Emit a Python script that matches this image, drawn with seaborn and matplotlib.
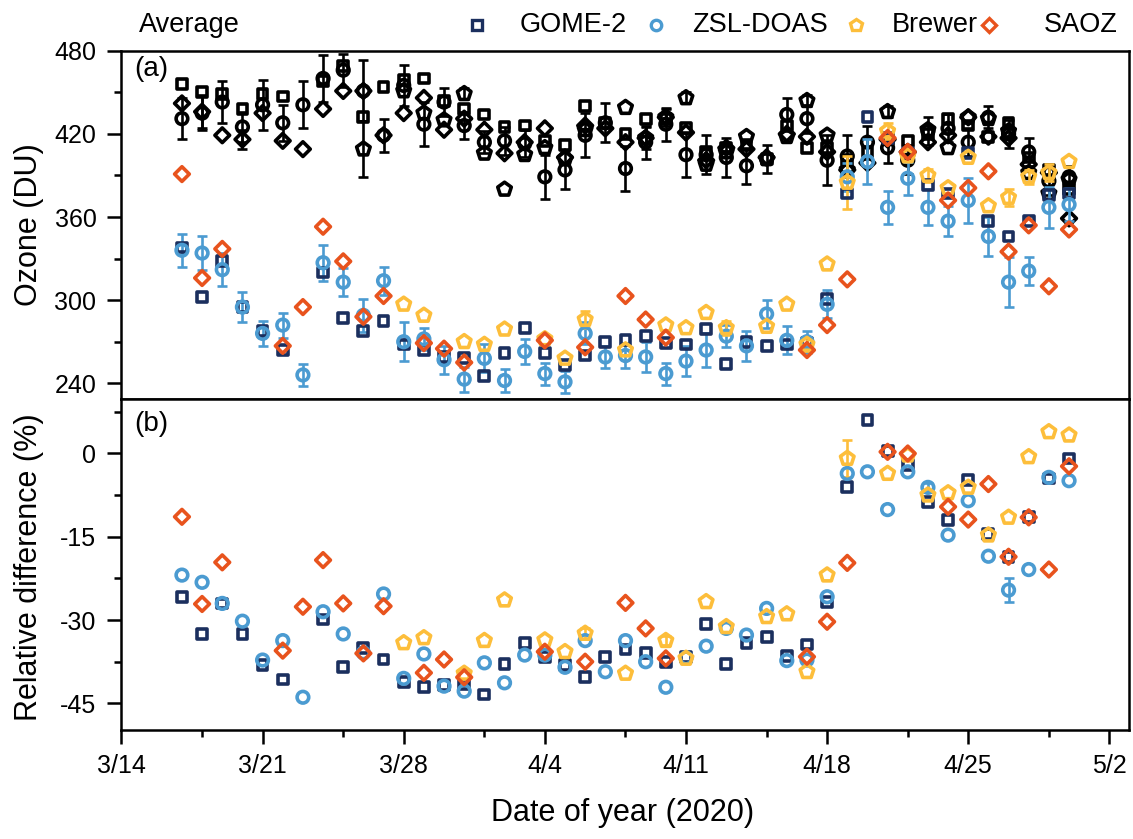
import numpy as np
import pandas as pd
import matplotlib
matplotlib.use("Agg")
import matplotlib.pyplot as plt
import matplotlib.dates as mdates
from matplotlib.lines import Line2D
from matplotlib.ticker import MultipleLocator, FixedLocator, FuncFormatter
import seaborn as sns

nan = np.nan

# ---------------- data (3/17 ... 4/30, 2020) ----------------
dates = pd.date_range("2020-03-17", "2020-04-30", freq="D")

gome_2020 = [338, 302, 328, 295, 278, 264, nan, 320, 287, 278, 285, 268, 264, 259, 258,
             245, 262, 280, 262, 253, 260, 270, 271, 274, 269, 268, 279, 254, 270, 267,
             268, 269, 301, 377, 432, 417, 406, 383, 377, 406, 357, 346, 357, 376, 377]
gome_avg = [456, 450, 449, 438, 449, 447, nan, 458, 469, 432, 454, 459, 460, 444, 438,
            434, 425, 426, 415, 412, 440, 428, 420, 431, 431, 424, 407, 410, 412, 402,
            426, 410, 410, 401, 407, 416, 415, 420, 431, 426, 418, 428, 403, 394, 380]
gome_rd = [-25.8, -32.5, -27.0, -32.5, -38.1, -40.7, nan, -29.9, -38.5, -35.1, -37.1, -41.1,
           -42.0, -41.7, -41.6, -43.4, -37.9, -34.1, -36.6, -38.1, -40.3, -36.6, -35.3, -36.0,
           -37.5, -36.6, -30.7, -37.9, -34.2, -33.1, -36.5, -34.4, -26.7, -6.1, 6.0, 0.5,
           -2.1, -8.7, -12.0, -4.7, -14.5, -18.6, -11.5, -4.5, -0.9]

zsl_2020 = [336, 334, 322, 295, 276, 282, 246, 327, 313, 289, 314, 270, 272, 257, 243,
            258, 242, 263, 247, 241, 276, 259, 260, 259, 247, 256, 264, 274, 267, 290,
            271, 270, 297, 389, 400, 367, 388, 367, 357, 372, 346, 313, 321, 367, 369]
zsl_err = [12, 12, 12, 11, 9, 9, 8, 13, 10, 12, 10, 14, 8, 10, 9, 10, 8, 9, 8, 8, 8, 8, 9,
           11, 8, 11, 12, 8, 11, 10, 10, 8, 10, 10, 16, 12, 12, 13, 11, 16, 14, 18, 10, 15, 12]
zsl_avg = [431, 435, 443, 425, 441, 428, 441, 460, 466, 451, 419, 455, 427, 443, 426,
           414, 415, 413, 389, 394, 419, 428, 395, 414, 427, 405, 405, 403, 397, 402,
           434, 431, 401, 404, 414, 410, 401, 422, 424, 414, 432, 420, 407, 386, 389]
zsl_avg_err = [15, 12, 15, 11, 18, 13, 17, 17, 12, 22, 12, 15, 16, 10, 10, 8, 10, 10, 16,
               14, 16, 14, 16, 12, 12, 16, 14, 14, 13, 10, 12, 10, 18, 15, 12, 11, 10, 10,
               10, 10, 8, 10, 10, 10, 8]
zsl_rd = [-21.9, -23.2, -27.0, -30.2, -37.2, -33.7, -43.9, -28.5, -32.5, -35.9, -25.3, -40.5,
          -36.1, -41.9, -42.8, -37.7, -41.3, -36.3, -36.3, -38.5, -33.7, -39.3, -33.7, -37.5,
          -42.1, -36.8, -34.7, -31.5, -32.7, -27.9, -37.3, -37.2, -25.8, -3.6, -3.3, -10.1,
          -3.3, -6.1, -14.7, -8.5, -18.5, -24.6, -20.9, -4.3, -4.9]
zsl_rd_err = [0, 0, 0, 0, 0, 0, 0, 0, 0, 0, 0, 0, 0, 0, 0, 0, 0, 0, 0, 0, 0, 0, 0, 0, 0, 0,
              0, 0, 0, 0, 0, 0, 0, 0, 0, 0, 0, 0.8, 0, 0, 0, 2.2, 0, 0, 0]

brewer_2020 = [nan, nan, nan, nan, nan, nan, nan, nan, nan, nan, nan, 297, 289, nan, 270,
               268, 279, nan, 272, 258, 286, nan, 264, nan, 282, 280, 291, 280, nan, 281,
               297, 268, 326, 385, nan, 422, 404, 390, 381, 403, 368, 374, 389, 392, 400]
brewer_err = [0, 0, 0, 0, 0, 0, 0, 0, 0, 0, 0, 0, 0, 0, 0, 0, 0, 0, 0, 0, 6, 0, 0, 0, 0, 0,
              0, 5, 0, 0, 0, 5, 0, 19, 0, 6, 0, 5, 0, 0, 0, 6, 5, 6, 0]
brewer_avg = [nan, nan, nan, nan, nan, nan, nan, nan, nan, 409, nan, 451, 435, 430, 449,
              406, 380, 405, 410, 402, 423, nan, 439, 417, 432, 446, 398, 407, 418, 402,
              418, 444, 419, 394, nan, 436, 405, 423, 410, 432, 431, 422, 392, 377, 387]
brewer_avg_err = [0, 0, 0, 0, 0, 0, 0, 0, 0, 20, 0, 0, 0, 0, 4, 0, 0, 0, 0, 0, 0, 0, 0, 0,
                  6, 4, 0, 0, 0, 0, 0, 4, 0, 0, 0, 4, 0, 0, 0, 0, 0, 0, 0, 0, 0]
brewer_rd = [nan, nan, nan, nan, nan, nan, nan, nan, nan, nan, nan, -34.1, -33.2, nan, -39.6,
             -33.7, -26.4, nan, -33.6, -35.7, -32.4, nan, -39.6, nan, -33.7, -36.9, -26.7,
             -31.2, nan, -29.4, -28.9, -39.3, -21.9, -0.9, nan, -3.6, -0.3, -7.5, -7.1, -6.1,
             -14.7, -11.5, -0.6, 3.9, 3.3]
brewer_rd_err = [0, 0, 0, 0, 0, 0, 0, 0, 0, 0, 0, 0, 0, 0, 0, 0, 0, 0, 0, 0, 1.0, 0, 0, 0,
                 0.8, 0, 0, 0, 0, 0, 0, 0, 0, 3.4, 0, 0, 0, 0, 0, 0, 0, 0, 0, 0, 0]

saoz_2020 = [391, 316, 337, nan, nan, 267, 295, 353, 328, 288, 303, nan, 269, 265, 255,
             nan, nan, nan, 271, nan, 266, nan, 303, 286, 273, nan, nan, nan, nan, nan,
             nan, 264, 282, 315, nan, 417, 407, nan, 372, 381, 393, 335, 354, 310, 351]
saoz_avg = [442, 436, 419, 416, 435, 415, 409, 438, 451, 451, 419, 435, 446, 423, 431,
            423, 406, 414, 424, 403, 426, 424, 414, 417, 432, 421, 401, 410, 409, 403,
            420, 418, 407, 394, 399, 416, 407, 414, 419, 432, 418, 417, 398, 392, 359]
saoz_avg_err = [0, 12, 0, 7, 0, 0, 0, 0, 0, 0, 0, 0, 0, 0, 0, 0, 0, 0, 0, 0, 0, 0, 0, 8, 0,
                0, 0, 0, 0, 0, 0, 0, 0, 0, 0, 0, 0, 0, 0, 0, 0, 0, 0, 0, 0]
saoz_rd = [-11.4, -27.1, -19.6, nan, nan, -35.5, -27.6, -19.2, -27.0, -36.0, -27.5, nan,
           -39.5, -37.1, -40.3, nan, nan, nan, -35.7, nan, -37.5, nan, -26.9, -31.5, -36.9,
           nan, nan, nan, nan, nan, nan, -36.6, -30.3, -19.7, nan, 0.3, 0.0, nan, -9.6,
           -11.9, -5.5, -18.6, -11.5, -20.9, -2.3]

instruments = ["GOME-2", "ZSL-DOAS", "Brewer", "SAOZ"]
colors = {"GOME-2": "#1B2F5E", "ZSL-DOAS": "#4B9BD1", "Brewer": "#FDBE3B", "SAOZ": "#E8531D"}
markers = {"GOME-2": "s", "ZSL-DOAS": "o", "Brewer": "p", "SAOZ": "D"}
msize = {"GOME-2": 50, "ZSL-DOAS": 70, "Brewer": 105, "SAOZ": 56}

top_vals = {"GOME-2": (gome_2020, None), "ZSL-DOAS": (zsl_2020, zsl_err),
            "Brewer": (brewer_2020, brewer_err), "SAOZ": (saoz_2020, None)}
avg_vals = {"GOME-2": (gome_avg, None), "ZSL-DOAS": (zsl_avg, zsl_avg_err),
            "Brewer": (brewer_avg, brewer_avg_err), "SAOZ": (saoz_avg, saoz_avg_err)}
rd_vals = {"GOME-2": (gome_rd, None), "ZSL-DOAS": (zsl_rd, zsl_rd_err),
           "Brewer": (brewer_rd, brewer_rd_err), "SAOZ": (saoz_rd, None)}

# ---------------- style ----------------
sns.set_theme(style="ticks")
plt.rcParams["font.family"] = ["Liberation Sans", "DejaVu Sans"]
plt.rcParams["axes.unicode_minus"] = False
plt.rcParams["axes.linewidth"] = 1.8
plt.rcParams["axes.edgecolor"] = "black"
plt.rcParams["text.color"] = "black"
plt.rcParams["axes.labelcolor"] = "black"
plt.rcParams["xtick.color"] = "black"
plt.rcParams["ytick.color"] = "black"
plt.rcParams["xtick.labelcolor"] = "black"
plt.rcParams["ytick.labelcolor"] = "black"

fig = plt.figure(figsize=(11.33, 8.39), dpi=100)
L, W = 0.1072, 0.8892
ax1 = fig.add_axes([L, 0.525, W, 0.4145])
ax2 = fig.add_axes([L, 0.1299, W, 0.3951], sharex=ax1)

LW = 2.6


def draw(ax, vals, err, color, marker, s, z):
    v = np.asarray(vals, dtype=float)
    df = pd.DataFrame({"date": dates, "value": v}).dropna()
    if err is not None:
        e = np.asarray(err, dtype=float)
        m = (~np.isnan(v)) & (e > 0)
        if m.any():
            ax.errorbar(dates[m], v[m], yerr=e[m], fmt="none", ecolor=color,
                        elinewidth=1.9, capsize=3.8, capthick=1.9, zorder=z)
    n_before = len(ax.collections)
    sns.scatterplot(data=df, x="date", y="value", ax=ax, marker=marker, s=s,
                    color=color, facecolor="none", edgecolor=color, linewidth=LW,
                    legend=False, zorder=z + 0.5)
    for coll in ax.collections[n_before:]:
        coll.set_linewidths(LW)
        coll.set_facecolor("none")
        coll.set_edgecolor(color)


# averages (black) first
for i, inst in enumerate(instruments):
    vals, err = avg_vals[inst]
    draw(ax1, vals, err, "black", markers[inst], msize[inst], 2 + i * 0.01)
# 2020 values
for i, inst in enumerate(instruments):
    vals, err = top_vals[inst]
    draw(ax1, vals, err, colors[inst], markers[inst], msize[inst], 3 + i * 0.01)
    vals, err = rd_vals[inst]
    draw(ax2, vals, err, colors[inst], markers[inst], msize[inst], 3 + i * 0.01)

# ---------------- axes ----------------
ax1.set_ylim(229, 480)
ax1.yaxis.set_major_locator(FixedLocator([240, 300, 360, 420, 480]))
ax1.yaxis.set_minor_locator(MultipleLocator(30))
ax2.set_ylim(-49.8, 9.9)
ax2.yaxis.set_major_locator(FixedLocator([-45, -30, -15, 0]))
ax2.yaxis.set_minor_locator(MultipleLocator(7.5))

ax2.set_xlim(mdates.date2num(pd.Timestamp("2020-03-14")),
             mdates.date2num(pd.Timestamp("2020-05-02")) + 0.97)
major_days = pd.date_range("2020-03-14", "2020-05-02", freq="7D")
minor_days = pd.date_range("2020-03-18", "2020-04-29", freq="7D")
ax2.xaxis.set_major_locator(FixedLocator(mdates.date2num(major_days)))
ax2.xaxis.set_minor_locator(FixedLocator(mdates.date2num(minor_days)))


def fmt(v, pos):
    d = mdates.num2date(v)
    return f"{d.month}/{d.day}"


ax2.xaxis.set_major_formatter(FuncFormatter(fmt))

for ax in (ax1, ax2):
    for sp in ax.spines.values():
        sp.set_linewidth(1.8)
        sp.set_color("black")
    ax.tick_params(axis="y", which="major", length=10, width=1.8, direction="out",
                   labelsize=18, pad=8, color="black")
    ax.tick_params(axis="y", which="minor", length=5, width=1.8, direction="out",
                   color="black")
    ax.set_xlabel("")
    ax.grid(False)

ax1.tick_params(axis="x", which="both", bottom=False, labelbottom=False)
ax2.tick_params(axis="x", which="major", length=10, width=1.8, direction="out",
                labelsize=18, pad=7, color="black")
ax2.tick_params(axis="x", which="minor", length=5, width=1.8, direction="out",
                color="black")

ax1.set_ylabel("Ozone (DU)", fontsize=22)
ax2.set_ylabel("Relative difference (%)", fontsize=22)
ax1.yaxis.set_label_coords(-0.077, 0.5)
ax2.yaxis.set_label_coords(-0.077, 0.49)
ax2.set_xlabel("Date of year (2020)", fontsize=22)
ax2.xaxis.set_label_coords(0.497, -0.205)

ax1.text(0.0124, 0.985, "(a)", transform=ax1.transAxes, fontsize=20, ha="left", va="top")
ax2.text(0.0124, 0.962, "(b)", transform=ax2.transAxes, fontsize=20, ha="left", va="top")

# ---------------- legend row ----------------
ly = 0.970
fig.text(0.1227, ly, "Average", fontsize=19.5, ha="left", va="center")
leg_pos = {"GOME-2": (0.421, 0.459), "ZSL-DOAS": (0.579, 0.611),
           "Brewer": (0.7555, 0.787), "SAOZ": (0.873, 0.921)}
leg_ms = {"GOME-2": 7.0, "ZSL-DOAS": 7.5, "Brewer": 9.0, "SAOZ": 7.0}
for inst in instruments:
    mx, tx = leg_pos[inst]
    fig.add_artist(Line2D([mx], [ly], transform=fig.transFigure, marker=markers[inst],
                          markersize=leg_ms[inst], markerfacecolor="none",
                          markeredgecolor=colors[inst], markeredgewidth=2.4, linestyle="none"))
    fig.text(tx, ly, inst, fontsize=19.5, ha="left", va="center")

fig.savefig("out.png", dpi=100)
